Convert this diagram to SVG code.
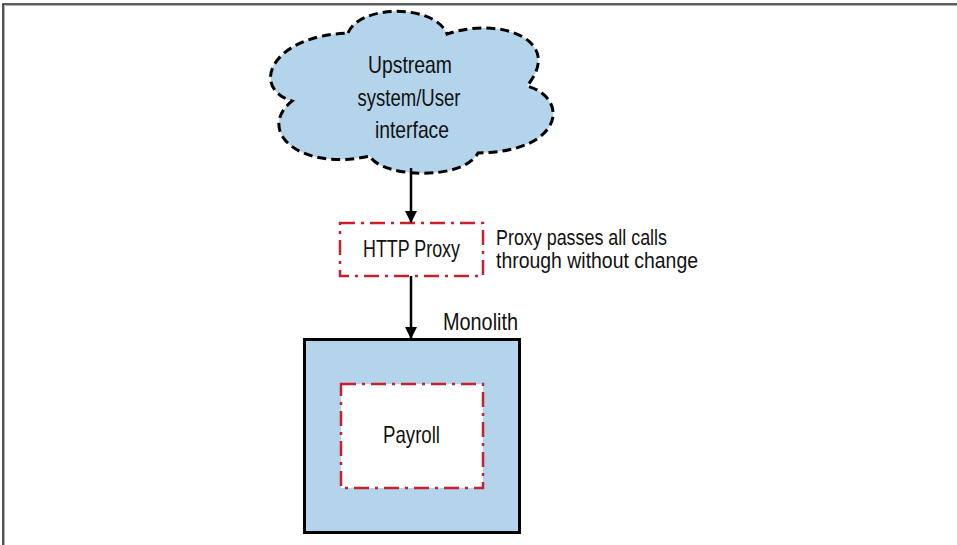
<svg xmlns="http://www.w3.org/2000/svg" width="957" height="545" viewBox="0 0 957 545">
<defs>
<style>
.t{font-family:"Liberation Sans",Arial,sans-serif;font-size:24px;fill:#111;}
.n{font-size:22px;}
.red{fill:#fff;stroke:#c8202e;stroke-width:2.5;stroke-dasharray:15 6 3 6;}
.arrow{stroke:#000;stroke-width:2.5;fill:none;}
</style>
<marker id="ah" viewBox="0 0 12 12" refX="11" refY="6" markerWidth="12" markerHeight="12" markerUnits="userSpaceOnUse" orient="auto">
<path d="M0,0 L12,6 L0,12 Z" fill="#000"/>
</marker>
</defs>
<rect width="957" height="545" fill="#fff"/>
<path d="M4.5,545 V5.5 H957" fill="none" stroke="#b0b0b0" stroke-width="1"/>
<path d="M3,545 V4 H957" fill="none" stroke="#2a2a2a" stroke-width="1.6"/>

<g id="cloud">
<path d="M348,33 C360,4 435,4 447,34 C500,16 565,40 527,86 C570,98 564,152 478,153 C462,182 380,177 370,156 C298,172 256,130 292,101 C250,88 270,36 348,33 Z" fill="#b3d4ea" stroke="#000" stroke-width="3" stroke-dasharray="9 5"/>
<text class="t" x="410" y="73" text-anchor="middle" textLength="84" lengthAdjust="spacingAndGlyphs">Upstream</text>
<text class="t" x="409" y="106" text-anchor="middle" textLength="103" lengthAdjust="spacingAndGlyphs">system/User</text>
<text class="t" x="412" y="138" text-anchor="middle" textLength="74" lengthAdjust="spacingAndGlyphs">interface</text>
</g>

<g id="proxy">
<rect class="red" x="340" y="223" width="143" height="53"/>
<text class="t" x="411.5" y="257" text-anchor="middle" textLength="97" lengthAdjust="spacingAndGlyphs">HTTP Proxy</text>
</g>

<g id="proxy-note">
<text class="t n" x="496" y="245" textLength="171" lengthAdjust="spacingAndGlyphs">Proxy passes all calls</text>
<text class="t n" x="496" y="268" textLength="202" lengthAdjust="spacingAndGlyphs">through without change</text>
</g>

<g id="monolith">
<rect x="304.5" y="339.5" width="215" height="193" fill="#b3d4ea" stroke="#000" stroke-width="3"/>
<text class="t" x="443" y="330" textLength="75" lengthAdjust="spacingAndGlyphs">Monolith</text>
</g>

<g id="payroll">
<rect class="red" x="341" y="384" width="142" height="104"/>
<text class="t" x="411.5" y="443" text-anchor="middle" textLength="57" lengthAdjust="spacingAndGlyphs">Payroll</text>
</g>

<g id="connectors">
<line class="arrow" x1="411" y1="168" x2="411" y2="222" marker-end="url(#ah)"/>
<line class="arrow" x1="411" y1="276" x2="411" y2="338" marker-end="url(#ah)"/>
</g>
</svg>
